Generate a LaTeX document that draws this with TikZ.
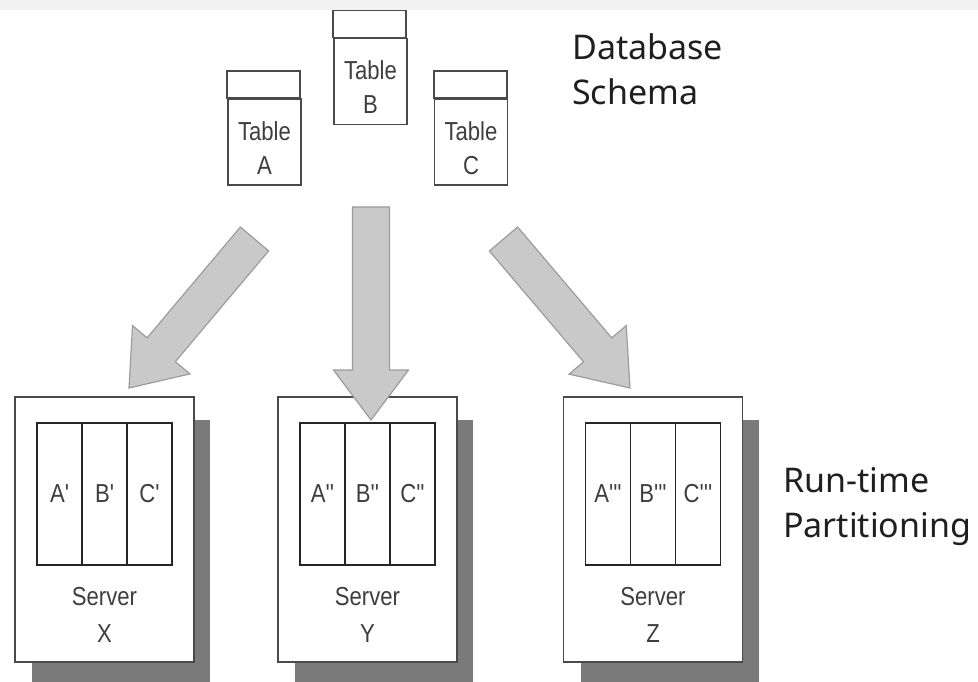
\documentclass[tikz,border=0pt]{standalone}
\usepackage{fontspec}
\usetikzlibrary{calc}
\newfontfamily\labelfont[FakeStretch=0.85]{Liberation Sans}
\newfontfamily\captionfont{Noto Sans}
\definecolor{inkgray}{HTML}{3E3E3E}
\definecolor{boxline}{HTML}{4A4A4A}
\definecolor{shadowgray}{HTML}{7A7A7A}
\definecolor{arrowfill}{HTML}{C9C9C9}
\definecolor{arrowline}{HTML}{9C9C9C}
\definecolor{topband}{HTML}{F2F2F2}

\tikzset{
  tbl/.style={draw=boxline, line width=1.6pt, fill=white, minimum width=73pt,
              minimum height=86pt, inner sep=0pt},
  tbltext/.style={font=\labelfont\fontsize{26}{34}\selectfont, text=inkgray,
                  align=center, inner sep=0pt},
  server/.style={draw=boxline, line width=1.5pt, fill=white, minimum width=179pt,
                 minimum height=265pt, inner sep=0pt},
  cell/.style={draw=black!85, line width=1.3pt, minimum width=45pt,
               minimum height=142pt, inner sep=0pt,
               font=\labelfont\fontsize{26}{30}\selectfont, text=inkgray},
  servertext/.style={font=\labelfont\fontsize{26}{37}\selectfont, text=inkgray,
                     align=center, inner sep=0pt},
  shadow/.style={fill=shadowgray, draw=none},
  caption/.style={font=\captionfont\fontsize{34}{45}\selectfont, text=black!88,
                  align=left, anchor=west, inner sep=0pt},
  bigarrow/.style={fill=arrowfill, draw=arrowline, line width=1.2pt, line join=miter},
}

% block arrow: name, tail coordinate, tip coordinate
\newcommand\drawblockarrow[3]{%
  \coordinate (#1base) at ($(#3)!50pt!(#2)$);
  \draw[bigarrow] ($(#2)!18.5pt!90:(#3)$) -- ($(#1base)!18.5pt!90:(#3)$)
    -- ($(#1base)!37.5pt!90:(#3)$) -- (#3) -- ($(#1base)!37.5pt!-90:(#3)$)
    -- ($(#1base)!18.5pt!-90:(#3)$) -- ($(#2)!18.5pt!-90:(#3)$) -- cycle;
}

\begin{document}
\begin{tikzpicture}[x=1pt, y=-1pt]
  \useasboundingbox (0,0) rectangle (978,682);
  \fill[topband] (0,0) rectangle (978,10);

  % tables of the schema
  \foreach \nm/\cx/\cy/\lt in {tabA/264.5/142/A, tabB/370.5/81.5/B, tabC/471/142/C} {
    \node[tbl] (\nm) at (\cx,\cy) {};
    \draw[boxline, line width=1.6pt] (\nm.north west) rectangle ++(73pt,27pt);
    \node[tbltext] (\nm txt) at ($(\nm.center)+(0,6)$) {Table\\\lt};
  }

  % captions
  \node[caption] (schema) at (572,69) {Database\\Schema};
  \node[caption] (runtime) at (783,507) {Run-time\\Partitioning};

  % servers with drop shadows and partitions
  \foreach \nm/\cx/\lt/\pr in {srvX/104.5/X/{'}, srvY/367.5/Y/{''}, srvZ/653/Z/{'''}} {
    \fill[shadow] ($(\cx,529.5)+(-89.5,-132.5)+(17,23)$) rectangle ($(\cx,529.5)+(89.5,132.5)+(16,23)$);
    \node[server] (\nm) at (\cx,529.5) {};
    \node[cell] (\nm a) at ($(\nm.center)+(-45,-35.5)$) {A\pr};
    \node[cell] (\nm b) at ($(\nm.center)+(0,-35.5)$) {B\pr};
    \node[cell] (\nm c) at ($(\nm.center)+(45,-35.5)$) {C\pr};
    \node[servertext] (\nm txt) at ($(\nm.center)+(0,85)$) {Server\\\lt};
  }

  % data flow from schema to servers
  \coordinate (arrAtail) at (254.5,239);
  \coordinate (arrAtip) at (129,388);
  \coordinate (arrBtail) at (371,207);
  \coordinate (arrBtip) at (371,420);
  \coordinate (arrCtail) at (503.5,239);
  \coordinate (arrCtip) at (630,388);
  \drawblockarrow{arrA}{arrAtail}{arrAtip}
  \drawblockarrow{arrB}{arrBtail}{arrBtip}
  \drawblockarrow{arrC}{arrCtail}{arrCtip}
\end{tikzpicture}
\end{document}
